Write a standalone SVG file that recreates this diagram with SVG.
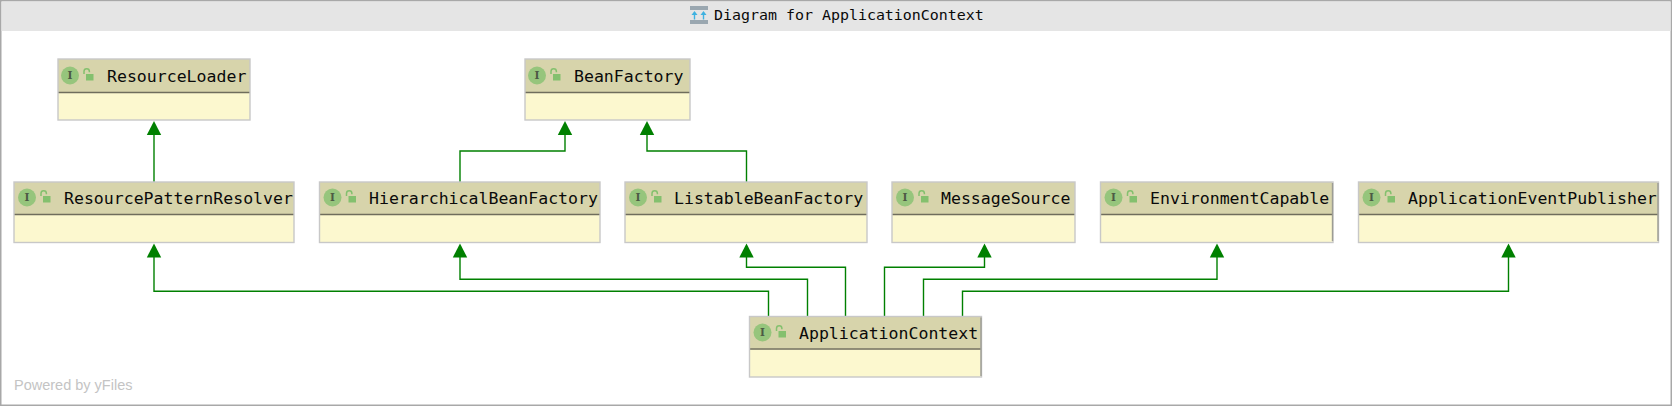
<svg xmlns="http://www.w3.org/2000/svg" xmlns:xlink="http://www.w3.org/1999/xlink" width="1672" height="406" viewBox="0 0 1672 406">
<style>
.hd{fill:#d7d4ab}
.bd{fill:#fcf8cf}
.fr{fill:none;stroke:#c8c8c8;stroke-width:1.4}
.rt{stroke:#9c9c94;stroke-width:1.4}
.dv{stroke:#6f6d5c;stroke-width:1.6}
.nm{font-family:"DejaVu Sans Mono",monospace;font-size:16.55px;fill:#0a0a0a}
.ti{font-family:"DejaVu Sans Mono",monospace;font-size:14.95px;fill:#0a0a0a}
.ic{font-family:"DejaVu Serif",serif;font-size:10.5px;font-weight:bold;fill:#4d5a45;text-anchor:middle}
.c{fill:none;stroke:#008000;stroke-width:1.4}
.a{fill:#008000}
.wm{font-family:"Liberation Sans",Arial,sans-serif;font-size:14.5px;fill:#c4c4c4}
</style>
<defs>
<g id="badge">
<circle cx="0" cy="0" r="9" fill="#96c57c"/>
<text class="ic" x="0" y="3.8">I</text>
<path d="M14 -1.5v-2.6a2.7 2.7 0 0 1 5.4 0v0.8" fill="none" stroke="#84c06e" stroke-width="1.5"/>
<rect x="16" y="-1.5" width="7.5" height="6.5" fill="#84c06e"/>
</g>
<path id="tip" d="M0 0L7.2 14H-7.2Z" class="a"/>
</defs>
<rect x="0.75" y="0.75" width="1670.5" height="404.5" fill="#fff" stroke="#a8a8a8" stroke-width="1.5"/>
<rect x="1.5" y="1.5" width="1669" height="29.5" fill="#e5e5e5"/>
<g id="title">
<rect x="690" y="6" width="18" height="4" fill="#9aa7b0"/>
<rect x="690" y="20" width="18" height="4" fill="#9aa7b0"/>
<path d="M694.5 11L697.5 15H695.2V19.5H693.8V15H691.5ZM703.5 11L706.5 15H704.2V19.5H702.8V15H700.5Z" fill="#3fb2e0"/>
<text class="ti" x="714" y="20">Diagram for ApplicationContext</text>
</g>
<g id="connectors">
<path class="c" d="M154 182V134"/>
<path class="c" d="M460 182V151H565V134"/>
<path class="c" d="M746.5 182V151H647V134"/>
<path class="c" d="M768.5 316V291.3H154V256"/>
<path class="c" d="M807.5 316V279.3H460V256"/>
<path class="c" d="M845.5 316V267.3H746.5V256"/>
<path class="c" d="M884.5 316V267.3H984.5V256"/>
<path class="c" d="M923.5 316V279.3H1217V256"/>
<path class="c" d="M962.5 316V291.3H1508.5V256"/>
<use xlink:href="#tip" href="#tip" x="154" y="121"/>
<use xlink:href="#tip" href="#tip" x="565" y="121"/>
<use xlink:href="#tip" href="#tip" x="647" y="121"/>
<use xlink:href="#tip" href="#tip" x="154" y="243.5"/>
<use xlink:href="#tip" href="#tip" x="460" y="243.5"/>
<use xlink:href="#tip" href="#tip" x="746.5" y="243.5"/>
<use xlink:href="#tip" href="#tip" x="984.5" y="243.5"/>
<use xlink:href="#tip" href="#tip" x="1217" y="243.5"/>
<use xlink:href="#tip" href="#tip" x="1508.5" y="243.5"/>
</g>
<g id="ResourceLoader">
<rect class="bd" x="58" y="59" width="192" height="61"/><rect class="hd" x="58" y="59" width="192" height="33"/>
<line class="dv" x1="58" y1="92.5" x2="250" y2="92.5"/><rect class="fr" x="58" y="59" width="192" height="61"/>
<use xlink:href="#badge" href="#badge" x="70" y="75.5"/>
<text class="nm" x="107" y="82">ResourceLoader</text>
</g>
<g id="BeanFactory">
<rect class="bd" x="525" y="59" width="165" height="61"/><rect class="hd" x="525" y="59" width="165" height="33"/>
<line class="dv" x1="525" y1="92.5" x2="690" y2="92.5"/><rect class="fr" x="525" y="59" width="165" height="61"/>
<use xlink:href="#badge" href="#badge" x="537" y="75.5"/>
<text class="nm" x="574" y="82">BeanFactory</text>
</g>
<g id="ResourcePatternResolver">
<rect class="bd" x="14" y="182" width="280" height="60.5"/><rect class="hd" x="14" y="182" width="280" height="32"/>
<line class="dv" x1="14" y1="214.5" x2="294" y2="214.5"/><rect class="fr" x="14" y="182" width="280" height="60.5"/>
<use xlink:href="#badge" href="#badge" x="27" y="197.5"/>
<text class="nm" x="64" y="204">ResourcePatternResolver</text>
</g>
<g id="HierarchicalBeanFactory">
<rect class="bd" x="319.5" y="182" width="280.5" height="60.5"/><rect class="hd" x="319.5" y="182" width="280.5" height="32"/>
<line class="dv" x1="319.5" y1="214.5" x2="600" y2="214.5"/><rect class="fr" x="319.5" y="182" width="280.5" height="60.5"/>
<use xlink:href="#badge" href="#badge" x="332.5" y="197.5"/>
<text class="nm" x="369" y="204">HierarchicalBeanFactory</text>
</g>
<g id="ListableBeanFactory">
<rect class="bd" x="625" y="182" width="242" height="60.5"/><rect class="hd" x="625" y="182" width="242" height="32"/>
<line class="dv" x1="625" y1="214.5" x2="867" y2="214.5"/><rect class="fr" x="625" y="182" width="242" height="60.5"/>
<use xlink:href="#badge" href="#badge" x="638" y="197.5"/>
<text class="nm" x="674" y="204">ListableBeanFactory</text>
</g>
<g id="MessageSource">
<rect class="bd" x="892" y="182" width="183" height="60.5"/><rect class="hd" x="892" y="182" width="183" height="32"/>
<line class="dv" x1="892" y1="214.5" x2="1075" y2="214.5"/><rect class="fr" x="892" y="182" width="183" height="60.5"/>
<use xlink:href="#badge" href="#badge" x="905" y="197.5"/>
<text class="nm" x="941" y="204">MessageSource</text>
</g>
<g id="EnvironmentCapable">
<rect class="bd" x="1100.5" y="182" width="232.5" height="60.5"/><rect class="hd" x="1100.5" y="182" width="232.5" height="32"/>
<line class="dv" x1="1100.5" y1="214.5" x2="1333" y2="214.5"/><rect class="fr" x="1100.5" y="182" width="232.5" height="60.5"/>
<line class="rt" x1="1332.5" y1="183" x2="1332.5" y2="241"/>
<use xlink:href="#badge" href="#badge" x="1113.5" y="197.5"/>
<text class="nm" x="1150" y="204">EnvironmentCapable</text>
</g>
<g id="ApplicationEventPublisher">
<rect class="bd" x="1358.5" y="182" width="300" height="60.5"/><rect class="hd" x="1358.5" y="182" width="300" height="32"/>
<line class="dv" x1="1358.5" y1="214.5" x2="1658.5" y2="214.5"/><rect class="fr" x="1358.5" y="182" width="300" height="60.5"/>
<line class="rt" x1="1658" y1="183" x2="1658" y2="241"/>
<use xlink:href="#badge" href="#badge" x="1371.5" y="197.5"/>
<text class="nm" x="1408" y="204">ApplicationEventPublisher</text>
</g>
<g id="ApplicationContext">
<rect class="bd" x="749.5" y="316.5" width="232" height="60.5"/><rect class="hd" x="749.5" y="316.5" width="232" height="32"/>
<line class="dv" x1="749.5" y1="349" x2="981.5" y2="349"/><rect class="fr" x="749.5" y="316.5" width="232" height="60.5"/>
<line class="rt" x1="981" y1="317.5" x2="981" y2="376"/>
<use xlink:href="#badge" href="#badge" x="762.5" y="332.5"/>
<text class="nm" x="799" y="339">ApplicationContext</text>
</g>
<text class="wm" x="14" y="390">Powered by yFiles</text>
</svg>
